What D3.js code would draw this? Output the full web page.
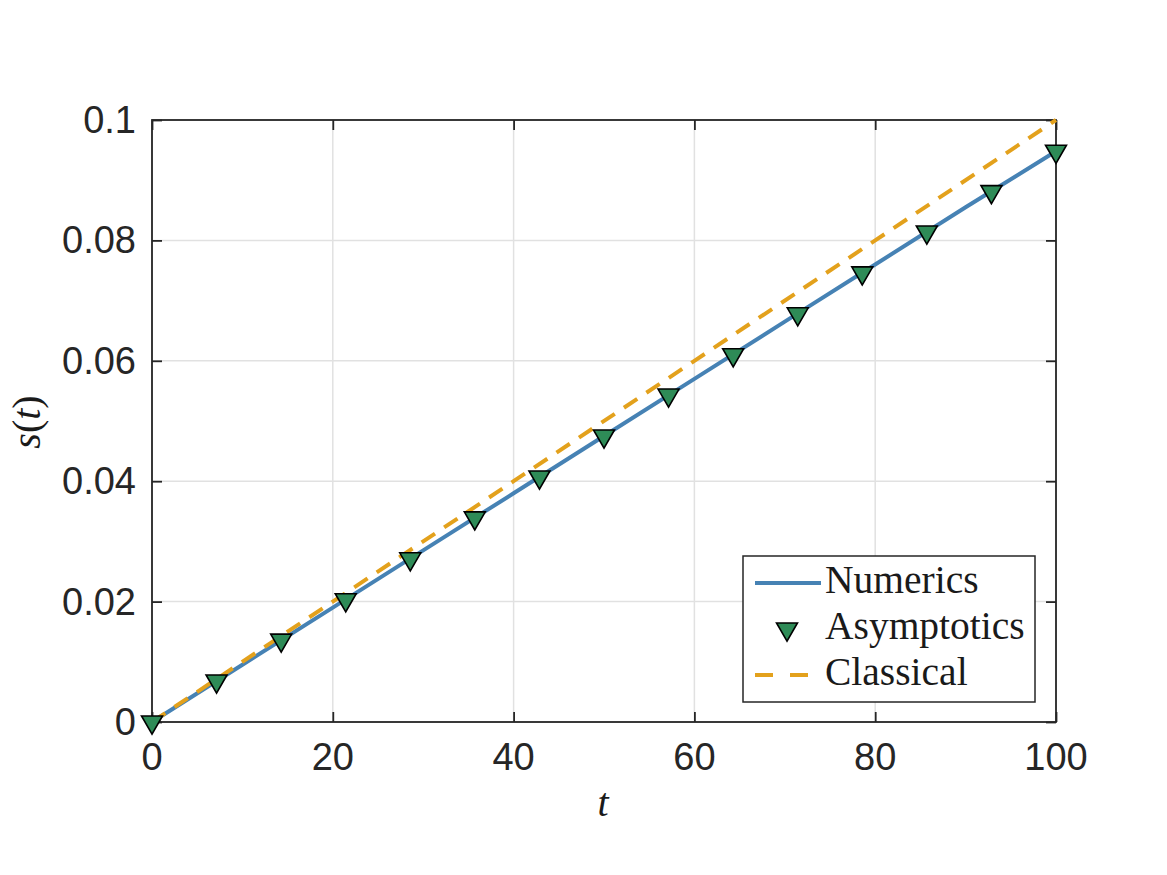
<!DOCTYPE html>
<html>
<head>
<meta charset="utf-8">
<script src="https://cdn.jsdelivr.net/npm/d3@7"></script>
<style>
  body { margin: 0; background: #fff; }
  .tick-label { font-family: "Liberation Sans", Arial, sans-serif; font-size: 38px; fill: #262626; }
  .serif { font-family: "Liberation Serif", "DejaVu Serif", serif; fill: #1a1a1a; }
</style>
</head>
<body>
<svg id="chart" width="1167" height="875"></svg>
<script>
// data
const numericsT = [0, 10, 20, 30, 40, 50, 60, 70, 80, 90, 100];
const numericsS = [0, 0.0095, 0.019, 0.0285, 0.038, 0.0475, 0.057, 0.0665, 0.076, 0.0855, 0.0948];

const asymT = [0, 7.14, 14.29, 21.43, 28.57, 35.71, 42.86, 50, 57.14, 64.29, 71.43, 78.57, 85.71, 92.86, 100];
const asymS = [0, 0.0068, 0.0136, 0.0203, 0.0271, 0.0339, 0.0407, 0.0475, 0.0543, 0.061, 0.0678, 0.0746, 0.0814, 0.0881, 0.0948];

const classicalT = [0, 20, 40, 60, 80, 100];
const classicalS = [0, 0.02, 0.04, 0.06, 0.08, 0.1];

const xTicks = [0, 20, 40, 60, 80, 100];
const yTicks = [0, 0.02, 0.04, 0.06, 0.08, 0.1];
const yTickLabels = ['0', '0.02', '0.04', '0.06', '0.08', '0.1'];

const legendItems = ['Numerics', 'Asymptotics', 'Classical'];

const COLORS = {
  numerics: '#4682b4',
  asym: '#2e8b57',
  classical: '#e3a11c',
  axis: '#262626',
  grid: '#e1e1e1',
};

const svg = d3.select('#chart');
const plotLeft = 152, plotRight = 1056, plotTop = 120, plotBottom = 722;

const x = d3.scaleLinear().domain([0, 100]).range([plotLeft, plotRight]);
const y = d3.scaleLinear().domain([0, 0.1]).range([plotBottom, plotTop]);

// grid
svg.append('g')
  .selectAll('line')
  .data(xTicks)
  .join('line')
  .attr('x1', d => x(d)).attr('x2', d => x(d))
  .attr('y1', plotTop).attr('y2', plotBottom)
  .attr('stroke', COLORS.grid).attr('stroke-width', 1.5);

svg.append('g')
  .selectAll('line')
  .data(yTicks)
  .join('line')
  .attr('x1', plotLeft).attr('x2', plotRight)
  .attr('y1', d => y(d)).attr('y2', d => y(d))
  .attr('stroke', COLORS.grid).attr('stroke-width', 1.5);

// axes (inward ticks, box)
const tickLen = 10;
const axisG = svg.append('g');

axisG.append('g').attr('transform', `translate(0,${plotBottom})`)
  .call(d3.axisBottom(x).tickValues(xTicks).tickSize(-tickLen).tickFormat(''))
  .call(g => g.select('.domain').remove());
axisG.append('g').attr('transform', `translate(0,${plotTop})`)
  .call(d3.axisTop(x).tickValues(xTicks).tickSize(-tickLen).tickFormat(''))
  .call(g => g.select('.domain').remove());
axisG.append('g').attr('transform', `translate(${plotLeft},0)`)
  .call(d3.axisLeft(y).tickValues(yTicks).tickSize(-tickLen).tickFormat(''))
  .call(g => g.select('.domain').remove());
axisG.append('g').attr('transform', `translate(${plotRight},0)`)
  .call(d3.axisRight(y).tickValues(yTicks).tickSize(-tickLen).tickFormat(''))
  .call(g => g.select('.domain').remove());
axisG.selectAll('.tick line').attr('stroke', COLORS.axis).attr('stroke-width', 1.8);

svg.append('rect')
  .attr('x', plotLeft).attr('y', plotTop)
  .attr('width', plotRight - plotLeft).attr('height', plotBottom - plotTop)
  .attr('fill', 'none').attr('stroke', COLORS.axis).attr('stroke-width', 1.8);

// tick labels
svg.append('g').selectAll('text')
  .data(xTicks)
  .join('text')
  .attr('class', 'tick-label')
  .attr('x', d => x(d)).attr('y', 770)
  .attr('text-anchor', 'middle')
  .text(d => d);

svg.append('g').selectAll('text')
  .data(yTicks)
  .join('text')
  .attr('class', 'tick-label')
  .attr('x', 136).attr('y', d => y(d) + 13)
  .attr('text-anchor', 'end')
  .text((d, i) => yTickLabels[i]);

// axis labels
svg.append('text')
  .attr('class', 'serif')
  .attr('x', 603).attr('y', 816)
  .attr('text-anchor', 'middle')
  .style('font-size', '40px').style('font-style', 'italic')
  .text('t');

svg.append('text')
  .attr('class', 'serif')
  .attr('transform', 'translate(40,422) rotate(-90)')
  .attr('text-anchor', 'middle')
  .style('font-size', '40px')
  .call(t => {
    t.append('tspan').style('font-style', 'italic').text('s');
    t.append('tspan').text('(');
    t.append('tspan').style('font-style', 'italic').text('t');
    t.append('tspan').text(')');
  });

// series
const line = d3.line().x(d => x(d[0])).y(d => y(d[1]));

svg.append('path')
  .datum(numericsT.map((t, i) => [t, numericsS[i]]))
  .attr('d', line)
  .attr('fill', 'none')
  .attr('stroke', COLORS.numerics).attr('stroke-width', 4);

svg.append('path')
  .datum(classicalT.map((t, i) => [t, classicalS[i]]))
  .attr('d', line)
  .attr('fill', 'none')
  .attr('stroke', COLORS.classical).attr('stroke-width', 4)
  .attr('stroke-dasharray', '16,11');

const tri = d3.symbol().type(d3.symbolTriangle).size(190);

svg.append('g').selectAll('path')
  .data(asymT.map((t, i) => [t, asymS[i]]))
  .join('path')
  .attr('d', tri)
  .attr('transform', d => `translate(${x(d[0])},${y(d[1])}) rotate(180)`)
  .attr('fill', COLORS.asym)
  .attr('stroke', '#000').attr('stroke-width', 1.6);

// legend
const lg = svg.append('g');
lg.append('rect')
  .attr('x', 743).attr('y', 556).attr('width', 292).attr('height', 146)
  .attr('fill', '#fff').attr('stroke', COLORS.axis).attr('stroke-width', 1.5);

const rowY = [583, 629, 675];
lg.append('line')
  .attr('x1', 755).attr('x2', 821).attr('y1', rowY[0]).attr('y2', rowY[0])
  .attr('stroke', COLORS.numerics).attr('stroke-width', 4);
lg.append('path')
  .attr('d', tri)
  .attr('transform', `translate(787,${rowY[1]}) rotate(180)`)
  .attr('fill', COLORS.asym).attr('stroke', '#000').attr('stroke-width', 1.6);
lg.append('line')
  .attr('x1', 755).attr('x2', 821).attr('y1', rowY[2]).attr('y2', rowY[2])
  .attr('stroke', COLORS.classical).attr('stroke-width', 4)
  .attr('stroke-dasharray', '18,17');

lg.selectAll('text.leg')
  .data(legendItems)
  .join('text')
  .attr('class', 'serif leg')
  .attr('x', 825).attr('y', (d, i) => rowY[i] + 10)
  .style('font-size', '39.5px')
  .text(d => d);
</script>
</body>
</html>
